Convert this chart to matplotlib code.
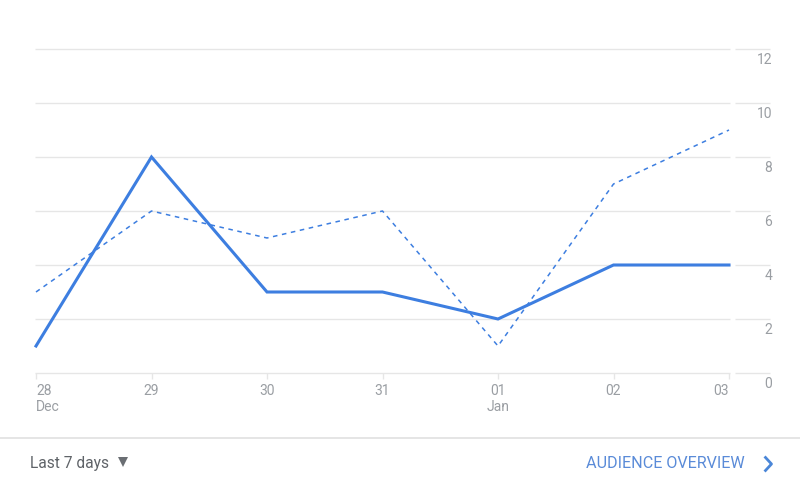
import matplotlib
matplotlib.use("Agg")
import matplotlib.pyplot as plt
import matplotlib.transforms as mtransforms
from matplotlib.lines import Line2D

plt.rcParams['font.family'] = ['Roboto', 'DejaVu Sans']

days = ["28\nDec", "29", "30", "31", "01\nJan", "02", "03"]
current = [1, 8, 3, 3, 2, 4, 4]
previous = [3, 6, 5, 6, 1, 7, 9]
y_ticks = [0, 2, 4, 6, 8, 10, 12]

W, H = 800, 486
fig = plt.figure(figsize=(W / 100, H / 100), dpi=100)
fig.patch.set_facecolor('white')

left, right = 36, 729
top, bottom = 49, 373
ax = fig.add_axes([left / W, 1 - bottom / H, (right - left) / W, (bottom - top) / H])
ax.set_xlim(0, len(days) - 1)
ax.set_ylim(0, 12)
for s in ax.spines.values():
    s.set_visible(False)

blue = '#3d7ee0'
grid_c = '#e6e6e6'
label_c = '#9a9ea3'

x = list(range(len(days)))
# gridlines
ax.hlines(y_ticks, -0.005, len(days) - 1 + 0.005, colors=grid_c, lw=1, clip_on=False, zorder=0)
blend = mtransforms.blended_transform_factory(ax.transAxes, ax.transData)
ax.hlines(y_ticks, 1.0087, 1.0595, colors=grid_c, lw=1, clip_on=False, transform=blend, zorder=0)

ax.plot(x, previous, color=blue, lw=1.1, linestyle=(0, (3, 3)), clip_on=False, zorder=2)
ax.plot(x, current, color=blue, lw=2.2, clip_on=False, solid_joinstyle='miter', zorder=3)

# x ticks
ax.set_xticks(x)
ax.set_xticklabels(days, fontsize=10, color=label_c, linespacing=1.15)
ax.tick_params(axis='x', length=4, width=1, color=grid_c, pad=4)
labels = ax.get_xticklabels()
for i, lab in enumerate(labels):
    if i == 0:
        lab.set_ha('left')
        lab.set_multialignment('left')
    elif i == len(labels) - 1:
        lab.set_ha('right')
    else:
        lab.set_ha('center')
        lab.set_multialignment('center')
ax.set_yticks([])

# y labels on right, below gridlines
off = mtransforms.offset_copy(blend, fig=fig, x=0, y=-4, units='dots')
for v in y_ticks:
    ax.text(1.0625, v, str(v), transform=off, ha='right', va='top', fontsize=10, color=label_c)

# footer
fig.add_artist(Line2D([0, 1], [1 - 438 / H, 1 - 438 / H], color='#e0e0e0', lw=1.2, transform=fig.transFigure))
fig.text(30 / W, 1 - 463 / H, "Last 7 days", ha='left', va='center', fontsize=11.2, color='#5f6368')
fig.add_artist(Line2D([122.5 / W], [1 - 461.5 / H], marker='v', markersize=7.5, color='#6a6e73',
                      markeredgewidth=0, linestyle='none', transform=fig.transFigure))
fig.text(745 / W, 1 - 463.5 / H, "AUDIENCE OVERVIEW", ha='right', va='center', fontsize=11.6, color='#5a8bd8')
fig.add_artist(Line2D([765.5 / W, 771.5 / W, 765.5 / W], [1 - 457.5 / H, 1 - 464 / H, 1 - 470.5 / H],
                      color='#4a86d8', lw=2.0, transform=fig.transFigure))

fig.savefig("out.png", dpi=100, facecolor='white')
